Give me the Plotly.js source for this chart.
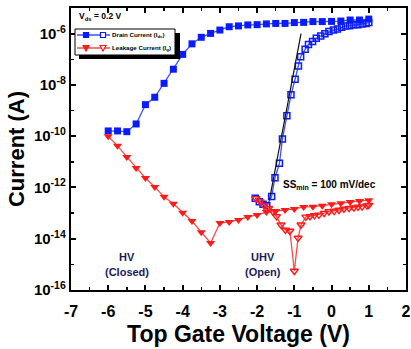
<!DOCTYPE html>
<html>
<head>
<meta charset="utf-8">
<script src="https://cdn.plot.ly/plotly-3.0.1.min.js"></script>
<style>html,body{margin:0;padding:0;background:#fff;}#chart{width:411px;height:349px;}</style>
</head>
<body>
<div id="chart"></div>
<script>
// ---- data ----
const vgHV = [-6,-5.75,-5.5,-5.25,-5,-4.75,-4.5,-4.25,-4,-3.75,-3.5,-3.25,-3,-2.75,-2.5,-2.25,-2,-1.75,-1.5,-1.25,-1,-0.75,-0.5,-0.25,0,0.25,0.5,0.75,1];
const idsHV = [1.6e-10,1.6e-10,1.5e-10,3.0e-10,1.7e-9,3.3e-9,1.15e-8,4.1e-8,1.55e-7,4.0e-7,7.2e-7,1.02e-6,1.38e-6,1.86e-6,2.0e-6,2.19e-6,2.24e-6,2.4e-6,2.5e-6,2.5e-6,2.7e-6,2.75e-6,2.95e-6,2.95e-6,3.0e-6,3.1e-6,3.4e-6,3.4e-6,3.7e-6];
const igHV = [1.0e-10,4.2e-11,1.55e-11,5.8e-12,2.35e-12,1.05e-12,4.3e-13,2.3e-13,1.02e-13,4.9e-14,1.8e-14,6.8e-15,4.1e-14,4.5e-14,5.4e-14,7.1e-14,8.5e-14,1.1e-13,1.2e-13,1.32e-13,1.45e-13,1.74e-13,1.78e-13,1.95e-13,2.2e-13,2.4e-13,2.7e-13,2.95e-13,3.2e-13];

const vgUHVd = [-2.05,-1.94,-1.84,-1.74,-1.61,-1.52,-1.40,-1.32,-1.20,-1.09,-0.98,-0.89,-0.83,-0.71,-0.62,-0.51,-0.41,-0.29,-0.18,-0.07,0.05,0.16,0.27,0.38,0.49,0.60,0.71,0.82,0.93,1.0];
const idsUHV = [3.8e-13,2.8e-13,2.2e-13,1.95e-13,4.4e-13,2.4e-12,8.7e-12,7.8e-11,6.2e-10,4.1e-9,1.66e-8,5.5e-8,1.26e-7,2.45e-7,3.8e-7,4.9e-7,6.6e-7,8.1e-7,9.8e-7,1.2e-6,1.38e-6,1.5e-6,1.78e-6,2.0e-6,2.05e-6,2.2e-6,2.2e-6,2.4e-6,2.5e-6,2.7e-6];

const vgUHVg = [-2.03,-1.92,-1.81,-1.69,-1.58,-1.48,-1.36,-1.24,-1.12,-1.0,-0.90,-0.82,-0.69,-0.58,-0.46,-0.34,-0.20,-0.07,0.07,0.20,0.33,0.47,0.60,0.71,0.82,0.95,1.0];
const igUHV = [3.7e-13,2.8e-13,1.95e-13,1.55e-13,1.15e-13,7.4e-14,3.5e-14,2.2e-14,2.0e-14,5.5e-16,1.07e-14,3.5e-14,7.1e-14,7.4e-14,8.1e-14,8.5e-14,1.0e-13,1.15e-13,1.2e-13,1.32e-13,1.45e-13,1.55e-13,1.62e-13,1.74e-13,1.78e-13,1.95e-13,2.05e-13];

const fitX = [-1.67,-0.82];
const fitY = [3.2e-13,1.0e-6];

const xTickVals = [-7,-6,-5,-4,-3,-2,-1,0,1,2];
const xTickText = ['-7','-6','-5','-4','-3','-2','-1','0','1','2'];
const yTickVals = [1e-16,1e-14,1e-12,1e-10,1e-8,1e-6];
const yTickText = ['10<sup>-16</sup>','10<sup>-14</sup>','10<sup>-12</sup>','10<sup>-10</sup>','10<sup>-8</sup>','10<sup>-6</sup>'];
const yMinorVals = [1e-15,1e-13,1e-11,1e-9,1e-7,1e-5];
const xMinorVals = [-6.5,-5.5,-4.5,-3.5,-2.5,-1.5,-0.5,0.5,1.5];

// ---- layout helpers ----
const W = 411, H = 349, ML = 71, MR = 5, MT = 8, MB = 59;
const PW = W - ML - MR, PH = H - MT - MB;
const px = x => (x - ML) / PW;
const py = y => (H - MB - y) / PH;

const BLUE = '#0a1cff', BLUE_L = '#3c50ff', RED = '#ff1a1a', RED_L = '#ff4a4a';
const FONT = 'Liberation Sans, Arial, sans-serif';

const traces = [
  {x: vgHV, y: idsHV, mode: 'lines+markers', line: {color: BLUE_L, width: 1.3},
   marker: {symbol: 'square', size: 7, color: BLUE}, name: 'Drain Current'},
  {x: vgHV, y: igHV, mode: 'lines+markers', line: {color: RED_L, width: 1.3},
   marker: {symbol: 'triangle-down', size: 8, color: RED}, name: 'Leakage Current'},
  {x: vgUHVd, y: idsUHV, mode: 'lines+markers', line: {color: BLUE_L, width: 1.3},
   marker: {symbol: 'square-open', size: 6, color: BLUE, line: {width: 1.5}}, name: 'Drain UHV'},
  {x: vgUHVg, y: igUHV, mode: 'lines+markers', line: {color: RED_L, width: 1.3},
   marker: {symbol: 'triangle-down-open', size: 7, color: RED, line: {width: 1.4}}, name: 'Leakage UHV'},
  {x: fitX, y: fitY, mode: 'lines', line: {color: '#111', width: 1.2}, name: 'fit'}
];

// custom legend (glyphs in paper coords)
const shapes = [];
shapes.push({type: 'rect', xref: 'paper', yref: 'paper', x0: px(79), x1: px(180), y0: py(59), y1: py(33),
  fillcolor: '#000', line: {width: 0}, layer: 'above'});
shapes.push({type: 'rect', xref: 'paper', yref: 'paper', x0: px(75), x1: px(175), y0: py(55), y1: py(29),
  fillcolor: '#fff', line: {color: '#000', width: 1}, layer: 'above'});
function sq(cx, cy, s, filled, color) {
  shapes.push({type: 'rect', xref: 'paper', yref: 'paper', x0: px(cx - s/2), x1: px(cx + s/2), y0: py(cy + s/2), y1: py(cy - s/2),
    fillcolor: filled ? color : '#fff', line: {color: color, width: 1.2}, layer: 'above'});
}
function tri(cx, cy, s, filled, color) {
  const a = [px(cx - s/2), py(cy - s/2.4)], b = [px(cx + s/2), py(cy - s/2.4)], c = [px(cx), py(cy + s/2)];
  shapes.push({type: 'path', xref: 'paper', yref: 'paper', path: `M${a[0]},${a[1]} L${b[0]},${b[1]} L${c[0]},${c[1]} Z`,
    fillcolor: filled ? color : '#fff', line: {color: color, width: 1.2}, layer: 'above'});
}
function seg(x0, x1, y, color) {
  shapes.push({type: 'line', xref: 'paper', yref: 'paper', x0: px(x0), x1: px(x1), y0: py(y), y1: py(y),
    line: {color: color, width: 1.3}, layer: 'above'});
}
seg(77, 110, 35, BLUE_L); sq(86, 35, 5, true, BLUE); sq(103, 35, 5, false, BLUE);
seg(77, 110, 48, RED_L); tri(86, 48, 6, true, RED); tri(103, 48, 6, false, RED);

const ann = (x, y, text, size, color, xanchor) => ({xref: 'paper', yref: 'paper', x: px(x), y: py(y), text: text,
  showarrow: false, xanchor: xanchor || 'center', yanchor: 'middle',
  font: {family: FONT, size: size, color: color || '#000', weight: 'bold'}});

const annotations = [
  ann(110, 35, 'Drain Current (I<sub>ds</sub>)', 6.2, '#000', 'left'),
  ann(110, 48, 'Leakage Current (I<sub>g</sub>)', 6.2, '#000', 'left'),
  ann(77, 16, 'V<sub>ds</sub> = 0.2 V', 8.5, '#000', 'left'),
  ann(281, 185, 'SS<sub>min</sub> = 100 mV/dec', 10, '#000', 'left'),
  ann(127, 257, 'HV', 11, '#1b1b5a'),
  ann(127, 272, '(Closed)', 11, '#1b1b5a'),
  ann(263, 257, 'UHV', 11, '#1b1b5a'),
  ann(263, 272, '(Open)', 11, '#1b1b5a')
];

const axisCommon = {showline: true, linecolor: '#000', linewidth: 2.2, mirror: 'allticks', ticks: 'inside',
  ticklen: 5, tickwidth: 2, tickcolor: '#000', showgrid: false, zeroline: false};

const layout = {
  width: W, height: H, margin: {l: ML, r: MR, t: MT, b: MB},
  paper_bgcolor: '#fff', plot_bgcolor: '#fff', showlegend: false,
  font: {family: FONT, color: '#000'},
  xaxis: Object.assign({}, axisCommon, {range: [-7, 2], tickmode: 'array', tickvals: xTickVals, ticktext: xTickText,
    tickfont: {family: FONT, size: 16, weight: 'bold'}, ticklabelstandoff: 6,
    minor: {tickmode: 'array', tickvals: xMinorVals, ticks: 'inside', ticklen: 3, tickwidth: 1.5, tickcolor: '#000'},
    title: {text: 'Top Gate Voltage (V)', font: {family: FONT, size: 23, weight: 'bold'}, standoff: 7}}),
  yaxis: Object.assign({}, axisCommon, {type: 'log', range: [-16, -5], tickmode: 'array', tickvals: yTickVals, ticktext: yTickText,
    tickfont: {family: FONT, size: 15, weight: 'bold'},
    minor: {tickmode: 'array', tickvals: yMinorVals, ticks: 'inside', ticklen: 3, tickwidth: 1.5, tickcolor: '#000'},
    title: {text: 'Current (A)', font: {family: FONT, size: 22, weight: 'bold'}, standoff: 3}}),
  shapes: shapes, annotations: annotations
};

Plotly.newPlot('chart', traces, layout, {displayModeBar: false, staticPlot: true});
</script>
</body>
</html>
